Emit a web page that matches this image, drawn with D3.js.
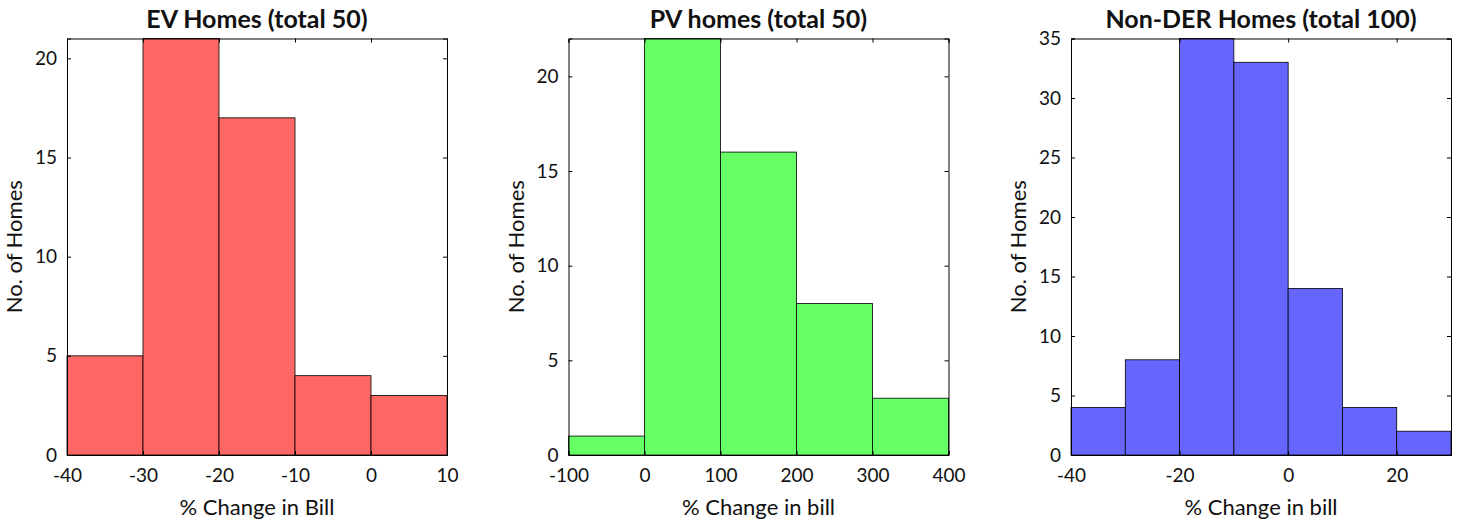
<!DOCTYPE html>
<html lang="en">
<head>
<meta charset="utf-8">
<title>Bill change histograms</title>
<script src="https://cdn.jsdelivr.net/npm/d3@7"></script>
<style>
  body { margin: 0; background: #fff; }
  text { font-family: Lato, "Open Sans", sans-serif; fill: #111; }
</style>
</head>
<body>
<script>
// bin edges and counts for each histogram
var evEdges = [-40, -30, -20, -10, 0, 10];
var evCounts = [5, 21, 17, 4, 3];
var evXTicks = [-40, -30, -20, -10, 0, 10];
var evYTicks = [0, 5, 10, 15, 20];

var pvEdges = [-100, 0, 100, 200, 300, 400];
var pvCounts = [1, 22, 16, 8, 3];
var pvXTicks = [-100, 0, 100, 200, 300, 400];
var pvYTicks = [0, 5, 10, 15, 20];

var nonEdges = [-40, -30, -20, -10, 0, 10, 20, 30];
var nonCounts = [4, 8, 35, 33, 14, 4, 2];
var nonXTicks = [-40, -20, 0, 20];
var nonYTicks = [0, 5, 10, 15, 20, 25, 30, 35];

var titles = ["EV Homes (total 50)", "PV homes (total 50)", "Non-DER Homes (total 100)"];
var xLabels = ["% Change in Bill", "% Change in bill", "% Change in bill"];

var panels = [
  {edges: evEdges, counts: evCounts, xt: evXTicks, yt: evYTicks, ymax: 21, color: "#ff6666", left: 67},
  {edges: pvEdges, counts: pvCounts, xt: pvXTicks, yt: pvYTicks, ymax: 22, color: "#66ff66", left: 568.5},
  {edges: nonEdges, counts: nonCounts, xt: nonXTicks, yt: nonYTicks, ymax: 35, color: "#6666ff", left: 1071}
];

var W = 1463, H = 522;
var pw = 380, plotTop = 38.5, plotBottom = 455;
var tickLen = 4;
var fmt = d => String(d);

var svg = d3.select("body").append("svg")
    .attr("width", W).attr("height", H);

panels.forEach(function(p, i) {
  var x = d3.scaleLinear()
      .domain([p.edges[0], p.edges[p.edges.length - 1]])
      .range([p.left, p.left + pw]);
  var y = d3.scaleLinear()
      .domain([0, p.ymax])
      .range([plotBottom, plotTop]);

  var g = svg.append("g");

  var bins = p.counts.map(function(c, k) {
    return {x0: p.edges[k], x1: p.edges[k + 1], n: c};
  });

  g.selectAll("rect")
    .data(bins)
    .enter().append("rect")
      .attr("x", d => x(d.x0))
      .attr("y", d => y(d.n))
      .attr("width", d => x(d.x1) - x(d.x0))
      .attr("height", d => y(0) - y(d.n))
      .attr("fill", p.color)
      .attr("stroke", "#000")
      .attr("stroke-width", 0.8);

  // bottom / left axes, ticks pointing inward
  var xAxis = g.append("g")
      .attr("transform", "translate(0," + plotBottom + ")")
      .call(d3.axisBottom(x).tickValues(p.xt).tickSize(-tickLen).tickPadding(14).tickFormat(fmt));
  var yAxis = g.append("g")
      .attr("transform", "translate(" + p.left + ",0)")
      .call(d3.axisLeft(y).tickValues(p.yt).tickSize(-tickLen).tickPadding(10).tickFormat(fmt));
  // mirrored top / right
  var xTop = g.append("g")
      .attr("transform", "translate(0," + plotTop + ")")
      .call(d3.axisTop(x).tickValues(p.xt).tickSize(-tickLen).tickFormat(""));
  var yRight = g.append("g")
      .attr("transform", "translate(" + (p.left + pw) + ",0)")
      .call(d3.axisRight(y).tickValues(p.yt).tickSize(-tickLen).tickFormat(""));

  [xAxis, yAxis, xTop, yRight].forEach(function(a) {
    a.select(".domain").attr("stroke", "#000").attr("stroke-width", 1);
    a.selectAll(".tick line").attr("stroke", "#000");
    a.selectAll(".tick text")
      .style("font-family", "Lato, sans-serif")
      .style("font-size", "19px")
      .attr("fill", "#222");
  });

  g.append("text")
    .attr("x", p.left + pw / 2)
    .attr("y", 28)
    .attr("text-anchor", "middle")
    .style("font-size", "25px")
    .style("font-weight", "bold")
    .text(titles[i]);

  g.append("text")
    .attr("x", p.left + pw / 2)
    .attr("y", 515)
    .attr("text-anchor", "middle")
    .style("font-size", "22px")
    .attr("fill", "#222")
    .text(xLabels[i]);

  g.append("text")
    .attr("transform", "translate(" + (p.left - 45) + "," + ((plotTop + plotBottom) / 2) + ") rotate(-90)")
    .attr("text-anchor", "middle")
    .style("font-size", "22px")
    .attr("fill", "#222")
    .text("No. of Homes");
});
</script>
</body>
</html>
